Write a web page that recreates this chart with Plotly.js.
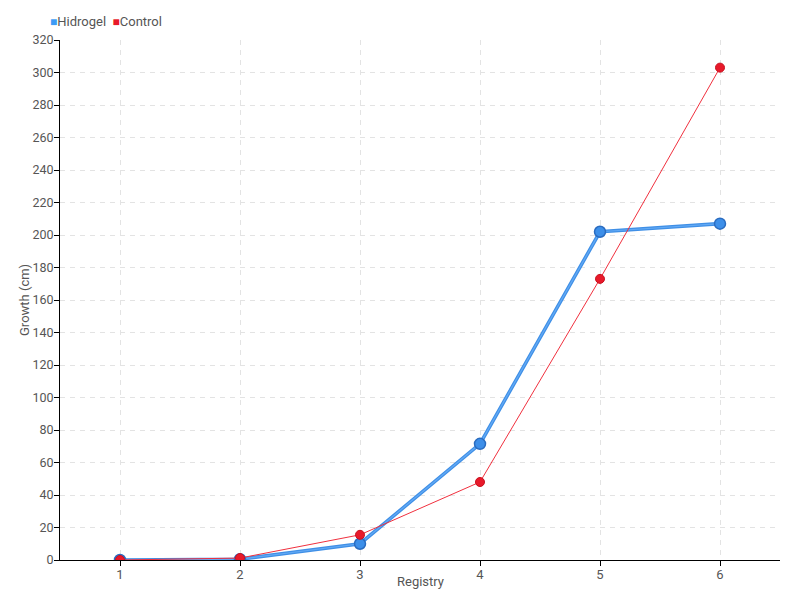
<!DOCTYPE html>
<html>
<head>
<meta charset="utf-8">
<script src="https://cdn.plot.ly/plotly-3.0.1.min.js"></script>
<style>html,body{margin:0;padding:0;background:#fff}#chart{width:800px;height:600px}</style>
</head>
<body>
<div id="chart"></div>
<script>
const registry = [1, 2, 3, 4, 5, 6];
const hidrogel = [0, 0.5, 10, 71.5, 202, 207];
const control = [0, 1.2, 15.5, 48, 173, 303];
const yTicks = [0,20,40,60,80,100,120,140,160,180,200,220,240,260,280,300,320];
const seriesNames = ['Hidrogel', 'Control'];
const seriesColors = ['#3d9bf5', '#e8192a'];
const xTitle = 'Registry';
const yTitle = 'Growth (cm)';

const FONT = 'Roboto, sans-serif';

const traces = [
  {x: registry, y: hidrogel, type: 'scatter', mode: 'lines', showlegend: false, hoverinfo: 'skip',
   line: {color: '#3f8fe6', width: 3.6}},
  {x: registry, y: hidrogel, type: 'scatter', mode: 'lines+markers', showlegend: false, name: seriesNames[0],
   line: {color: '#63aaf5', width: 1.2},
   marker: {color: '#3d8fe9', size: 11, line: {color: '#2a6cc0', width: 1.5}}},
  {x: registry, y: control, type: 'scatter', mode: 'lines+markers', showlegend: false, name: seriesNames[1],
   line: {color: '#f0303e', width: 1},
   marker: {color: '#e8192a', size: 9, line: {color: '#c8101e', width: 1}}}
];

const legendText = seriesNames.map((n, i) =>
  '<span style="color:' + seriesColors[i] + ';font-size:12px">■</span>' + n).join('  ');

const layout = {
  width: 800, height: 600,
  margin: {l: 60, r: 20, t: 40, b: 40, autoexpand: false},
  paper_bgcolor: '#fff', plot_bgcolor: '#fff',
  font: {family: FONT, size: 12, color: '#555'},
  showlegend: false,
  annotations: [
    {xref: 'paper', yref: 'paper', x: -0.016, y: 1.0, xanchor: 'left', yanchor: 'bottom',
     yshift: 9, showarrow: false, text: legendText, font: {size: 13, color: '#555'}},
    {xref: 'paper', yref: 'paper', x: 0.5, y: 0, yshift: -21, xanchor: 'center', yanchor: 'middle',
     showarrow: false, text: xTitle, font: {size: 13, color: '#555'}},
    {xref: 'paper', yref: 'paper', x: 0, xshift: -36, y: 0.5, xanchor: 'center', yanchor: 'middle',
     textangle: -90, showarrow: false, text: yTitle, font: {size: 13, color: '#555'}}
  ],
  xaxis: {
    range: [0.5, 6.5], tickvals: registry, ticktext: registry.map(String),
    showline: true, linecolor: '#000', linewidth: 1,
    ticks: 'outside', ticklen: 5, tickcolor: '#000', ticklabelstandoff: -3,
    tickfont: {size: 13},
    showgrid: true, gridcolor: '#e3e3e3', griddash: '5px,5px', zeroline: false
  },
  yaxis: {
    range: [0, 320], tickvals: yTicks,
    showline: true, linecolor: '#000', linewidth: 1,
    ticks: 'outside', ticklen: 5, tickcolor: '#000', ticklabelstandoff: -2,
    tickfont: {size: 12.5},
    showgrid: true, gridcolor: '#e3e3e3', griddash: '5px,5px', zeroline: false
  }
};

Plotly.newPlot('chart', traces, layout, {displayModeBar: false, staticPlot: true});
</script>
</body>
</html>
